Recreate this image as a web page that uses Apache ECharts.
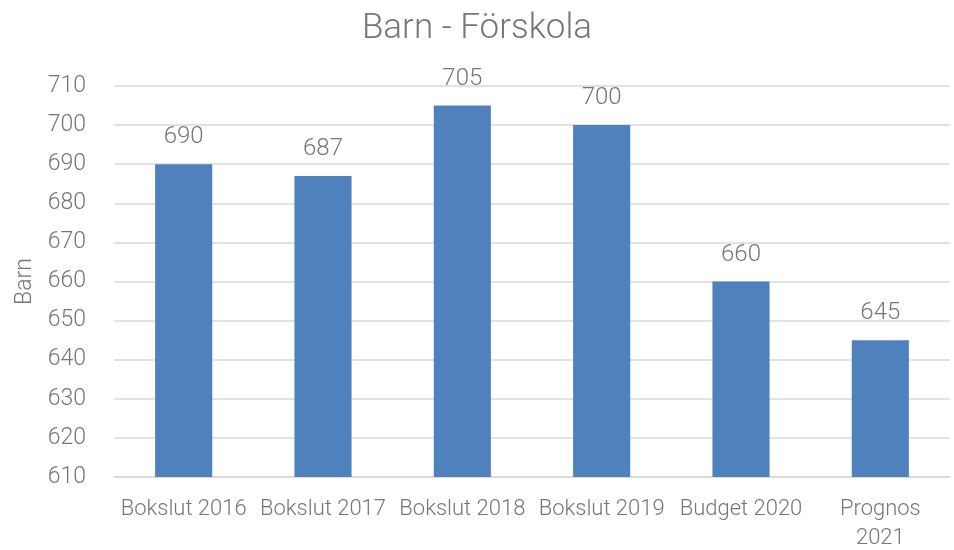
<!DOCTYPE html>
<html>
<head>
<meta charset="utf-8">
<script src="https://cdn.jsdelivr.net/npm/echarts@6/dist/echarts.min.js"></script>
<style>
  html, body { margin: 0; padding: 0; background: #fff; }
  #chart { width: 954px; height: 550px; }
</style>
</head>
<body>
<div id="chart"></div>
<script>
var categories = ['Bokslut 2016', 'Bokslut 2017', 'Bokslut 2018', 'Bokslut 2019', 'Budget 2020', 'Prognos 2021'];
var barnValues = [690, 687, 705, 700, 660, 645];
var yTicks = [610, 620, 630, 640, 650, 660, 670, 680, 690, 700, 710];

var textColor = '#767676';
var font = 'Roboto';

var myChart = echarts.init(document.getElementById('chart'));
var option = {
  animation: false,
  title: {
    text: 'Barn - Förskola',
    left: 'center',
    top: 7,
    textStyle: {
      fontFamily: font,
      fontWeight: 300,
      fontSize: 35,
      color: textColor
    }
  },
  grid: {
    left: 114,
    right: 4,
    top: 86,
    bottom: 73,
    outerBoundsMode: 'none'
  },
  xAxis: {
    type: 'category',
    data: categories,
    axisTick: { show: false },
    axisLine: { lineStyle: { color: '#d9d9d9', width: 1.5 } },
    axisLabel: {
      interval: 0,
      margin: 18,
      fontFamily: font,
      fontWeight: 300,
      fontSize: 22,
      lineHeight: 29,
      color: textColor,
      formatter: function (v) {
        return v === 'Prognos 2021' ? 'Prognos\n2021' : v;
      }
    }
  },
  yAxis: {
    type: 'value',
    min: yTicks[0],
    max: yTicks[yTicks.length - 1],
    interval: 10,
    name: 'Barn',
    nameLocation: 'middle',
    nameGap: 76,
    nameTextStyle: {
      fontFamily: font,
      fontWeight: 300,
      fontSize: 23,
      color: textColor
    },
    axisLine: { show: false },
    axisTick: { show: false },
    splitLine: { lineStyle: { color: '#d9d9d9', width: 1.5 } },
    axisLabel: {
      margin: 28,
      fontFamily: font,
      fontWeight: 300,
      fontSize: 23,
      color: textColor
    }
  },
  series: [
    {
      name: 'Barn',
      type: 'bar',
      data: barnValues,
      barWidth: '41%',
      itemStyle: { color: '#4f81bd' },
      label: {
        show: true,
        position: 'top',
        distance: 15,
        fontFamily: font,
        fontWeight: 300,
        fontSize: 24,
        color: textColor
      }
    }
  ]
};
myChart.setOption(option);
</script>
</body>
</html>
